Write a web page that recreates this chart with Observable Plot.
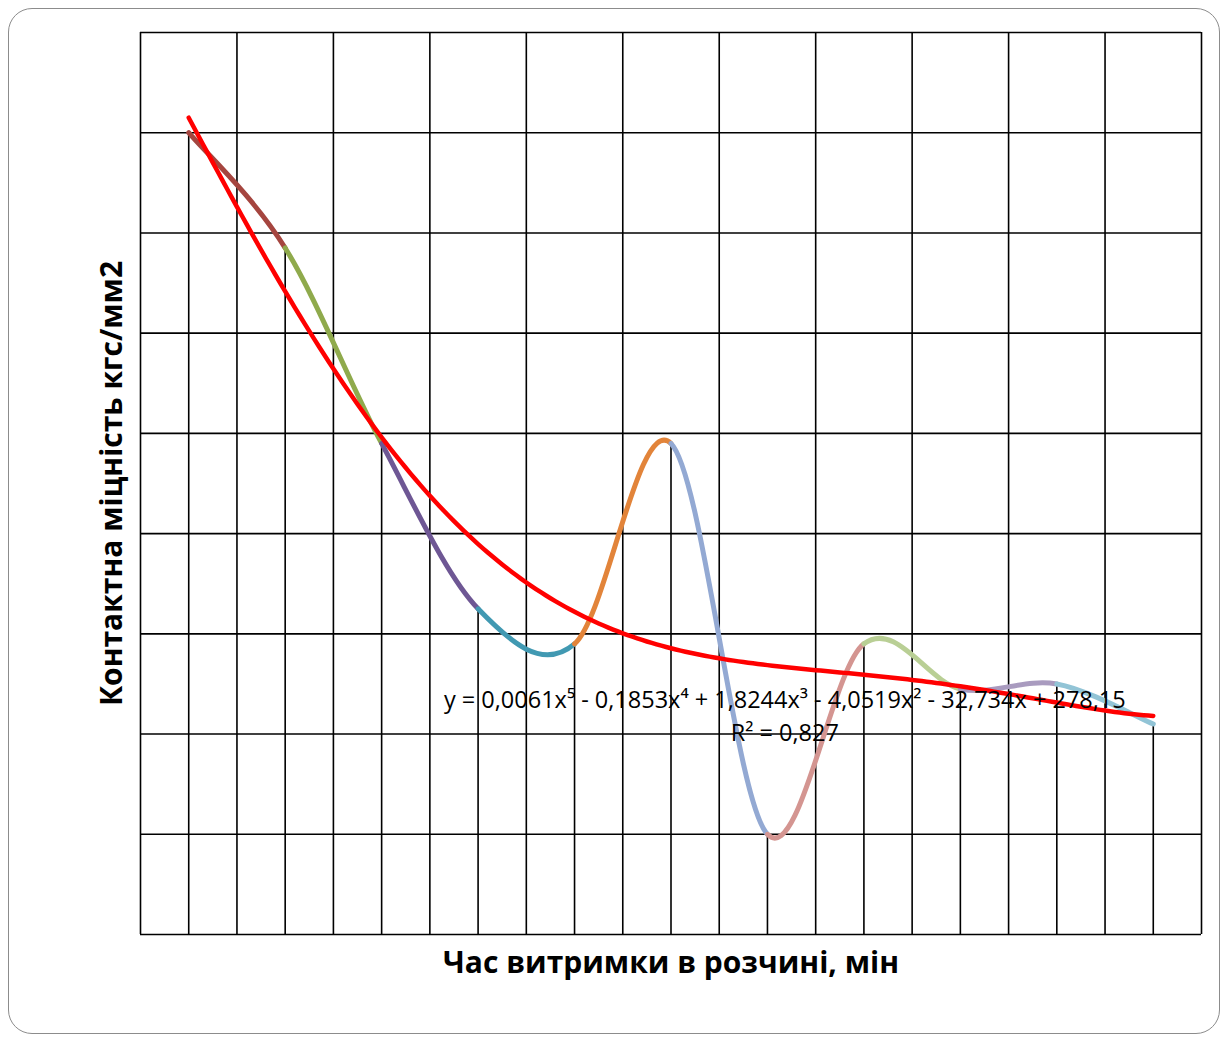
<!DOCTYPE html>
<html>
<head>
<meta charset="utf-8">
<script src="https://cdn.jsdelivr.net/npm/d3@7"></script>
<script src="https://cdn.jsdelivr.net/npm/@observablehq/plot@0.6"></script>
<style>
  html, body { margin: 0; padding: 0; background: #fff; }
  #wrap { position: relative; width: 1225px; height: 1041px; overflow: hidden; }
  #frame { position: absolute; left: 8px; top: 8px; width: 1212px; height: 1026px;
           border: 1.5px solid #8c8c8c; border-radius: 24px; box-sizing: border-box; }
  #chart { position: absolute; left: 0; top: 0; }
</style>
</head>
<body>
<div id="wrap"><div id="frame"></div><div id="chart"></div></div>
<script>
// ---- data ----
const xValues = [1, 2, 3, 4, 5, 6, 7, 8, 9, 10, 11];
const strength = [240, 217, 178, 145, 138, 178, 100, 138, 129, 130, 122];
const yGrid = [80, 100, 120, 140, 160, 180, 200, 220, 240, 260];
const xGrid = [0.5, 1.5, 2.5, 3.5, 4.5, 5.5, 6.5, 7.5, 8.5, 9.5, 10.5, 11.5];
const yTitle = "Контактна міцність кгс/мм2";
const xTitle = "Час витримки в розчині, мін";
const eqText = "y = 0,0061x⁵ - 0,1853x⁴ + 1,8244x³ - 4,0519x² - 32,734x + 278,15";
const r2Text = "R² = 0,827";
const segColors = ["#a5453f", "#8faa4c", "#6e5794", "#4199b2", "#e2843a",
                   "#93a9d3", "#d49591", "#b9cf95", "#a99bbf", "#92c4d6"];

const points = xValues.map((x, i) => ({x, y: strength[i]}));

// custom curve: draws only segment k of an Excel-like smoothed (Catmull-Rom) line
function segmentCurve(k) {
  return function(context) {
    let pts = [];
    return {
      areaStart() {}, areaEnd() {},
      lineStart() { pts = []; },
      point(x, y) { pts.push([+x, +y]); },
      lineEnd() {
        const n = pts.length;
        const P = i => pts[Math.max(0, Math.min(n - 1, i))];
        const p0 = P(k - 1), p1 = P(k), p2 = P(k + 1), p3 = P(k + 2);
        context.moveTo(p1[0], p1[1]);
        context.bezierCurveTo(
          p1[0] + (p2[0] - p0[0]) / 6, p1[1] + (p2[1] - p0[1]) / 6,
          p2[0] - (p3[0] - p1[0]) / 6, p2[1] - (p3[1] - p1[1]) / 6,
          p2[0], p2[1]);
      }
    };
  };
}

// degree-5 least-squares polynomial trendline fitted to the data
function polyFit(xs, ys, deg) {
  const c = 6, s = 5;
  const t = xs.map(x => (x - c) / s);
  const m = deg + 1;
  const A = Array.from({length: m}, () => new Array(m + 1).fill(0));
  for (let i = 0; i < t.length; i++) {
    for (let r = 0; r < m; r++) {
      for (let q = 0; q < m; q++) A[r][q] += Math.pow(t[i], r + q);
      A[r][m] += ys[i] * Math.pow(t[i], r);
    }
  }
  for (let col = 0; col < m; col++) {
    let piv = col;
    for (let r = col + 1; r < m; r++) if (Math.abs(A[r][col]) > Math.abs(A[piv][col])) piv = r;
    [A[col], A[piv]] = [A[piv], A[col]];
    for (let r = 0; r < m; r++) {
      if (r === col) continue;
      const f = A[r][col] / A[col][col];
      for (let q = col; q <= m; q++) A[r][q] -= f * A[col][q];
    }
  }
  const coef = A.map((row, i) => row[m] / row[i]);
  return x => { const u = (x - c) / s; return coef.reduce((acc, a, i) => acc + a * Math.pow(u, i), 0); };
}
const fit = polyFit(xValues, strength, 5);
const trend = d3.range(1, 11.0001, 0.05).map(x => ({x, y: fit(x)}));

const font = "'Open Sans', 'DejaVu Sans', sans-serif";

const segMarks = segColors.map((col, k) =>
  Plot.line(points, {x: "x", y: "y", curve: segmentCurve(k), stroke: col, strokeWidth: 5, strokeLinecap: "round"}));

const chart = Plot.plot({
  width: 1225,
  height: 1041,
  marginLeft: 140,
  marginRight: 24,
  marginTop: 32,
  marginBottom: 107,
  style: {background: "transparent", fontFamily: font},
  x: {domain: [0.5, 11.5], axis: null},
  y: {domain: [80, 260], axis: null},
  marks: [
    Plot.ruleY(yGrid, {stroke: "#000", strokeWidth: 1.6}),
    Plot.ruleX(xGrid, {stroke: "#000", strokeWidth: 1.6}),
    Plot.ruleX(points, {x: "x", y1: 80, y2: "y", stroke: "#000", strokeWidth: 1.6}),
    ...segMarks,
    Plot.line(trend, {x: "x", y: "y", stroke: "#ff0000", strokeWidth: 4.5, strokeLinecap: "round"}),
    Plot.text([eqText], {x: 7.18, y: 126.7, text: d => d, fontSize: 23.5, fill: "#000", fontFamily: font}),
    Plot.text([r2Text], {x: 7.18, y: 120.1, text: d => d, fontSize: 23.5, fill: "#000", fontFamily: font}),
    Plot.text([xTitle], {frameAnchor: "bottom", dy: 29, lineAnchor: "middle", textAnchor: "middle", text: d => d, fontSize: 30, fontWeight: "bold", fill: "#000", fontFamily: font}),
    Plot.text([yTitle], {frameAnchor: "left", dx: -28, rotate: -90, lineAnchor: "middle", textAnchor: "middle", text: d => d, fontSize: 30, fontWeight: "bold", fill: "#000", fontFamily: font})
  ]
});
document.getElementById("chart").appendChild(chart);
</script>
</body>
</html>
